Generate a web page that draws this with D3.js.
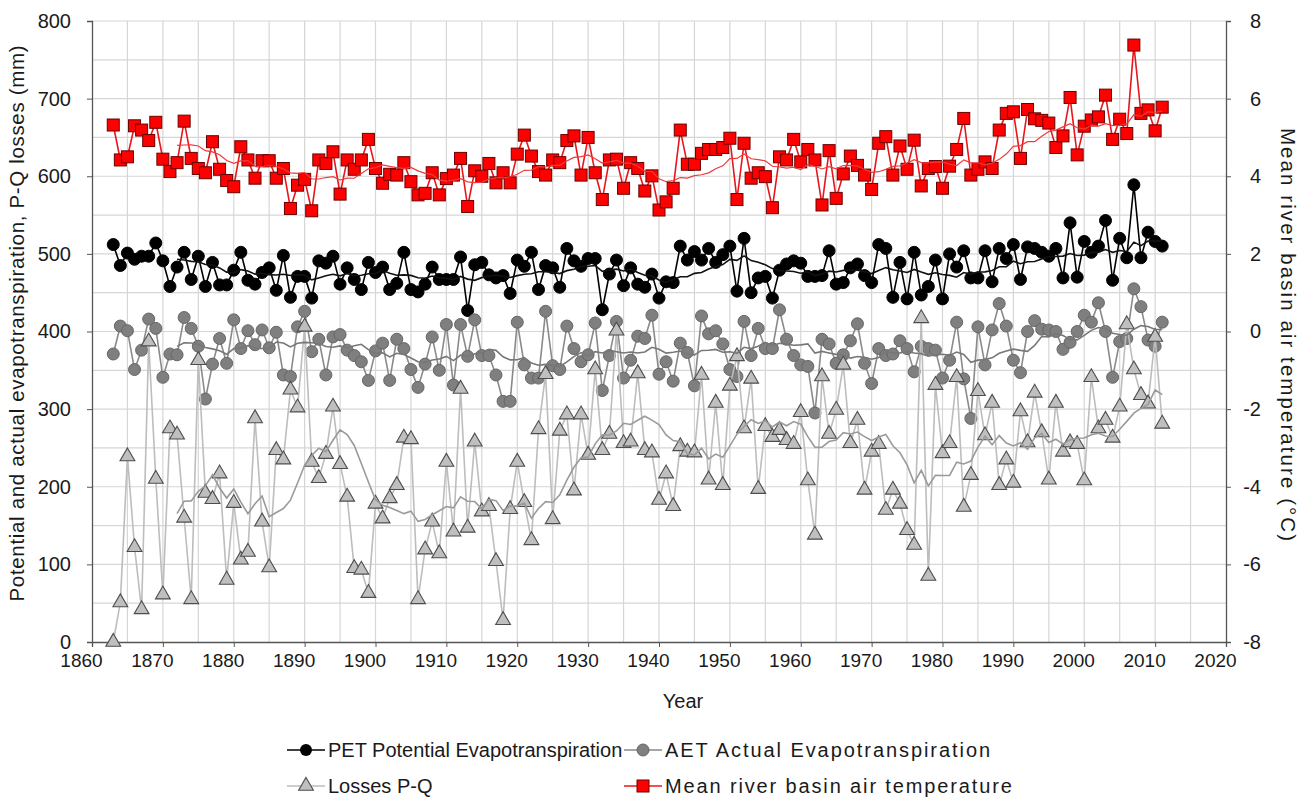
<!DOCTYPE html>
<html>
<head>
<meta charset="utf-8">
<script src="https://cdn.jsdelivr.net/npm/d3@7"></script>
<style>
  body { margin: 0; background: #fff; }
  text { font-family: "Liberation Sans", Arial, Helvetica, sans-serif; fill: #1a1a1a; }
</style>
</head>
<body>
<svg id="chart" width="1306" height="800"></svg>
<script>
// Annual series, 1863–2011
const firstYear = 1863;

// Potential evapotranspiration (mm)
const pet = [
  512, 485, 501, 493, 497, 497, 514, 491, 458, 483,
  502, 467, 497, 458, 489, 460, 460, 479, 502, 466,
  461, 476, 482, 453, 498, 444, 471, 471, 443, 491,
  488, 497, 461, 482, 467, 454, 489, 476, 483, 454,
  462, 502, 454, 451, 461, 483, 467, 467, 467, 496,
  427, 486, 489, 473, 469, 472, 449, 492, 484, 502,
  454, 485, 482, 457, 507, 491, 484, 494, 494, 428,
  474, 492, 459, 482, 461, 457, 474, 443, 464, 463,
  510, 492, 503, 492, 507, 489, 499, 510, 452, 520,
  450, 469, 471, 443, 479, 487, 491, 488, 471, 471,
  472, 504, 461, 463, 482, 487, 472, 463, 512, 507,
  444, 489, 442, 502, 447, 458, 492, 442, 500, 483,
  504, 469, 469, 504, 464, 507, 494, 512, 467, 509,
  507, 502, 497, 507, 469, 540, 470, 516, 502, 510,
  543, 466, 520, 495, 589, 495, 528, 516, 510
];

// Actual evapotranspiration (mm)
const aet = [
  371, 407, 401, 351, 376, 416, 404, 341, 371, 370,
  418, 404, 381, 313, 358, 391, 359, 415, 378, 401,
  383, 402, 379, 399, 344, 342, 406, 426, 374, 390,
  344, 393, 396, 376, 369, 361, 337, 375, 385, 337,
  390, 378, 351, 328, 358, 393, 350, 409, 331, 409,
  368, 415, 369, 369, 344, 310, 310, 412, 357, 340,
  340, 426, 356, 351, 407, 378, 361, 370, 411, 324,
  369, 413, 340, 363, 394, 391, 421, 345, 361, 336,
  385, 373, 330, 420, 397, 401, 384, 351, 342, 413,
  369, 404, 378, 378, 428, 390, 369, 357, 355, 295,
  390, 384, 359, 370, 388, 410, 359, 333, 378, 369,
  371, 388, 378, 348, 381, 378, 376, 340, 363, 412,
  339, 288, 406, 357, 402, 436, 407, 363, 347, 400,
  414, 403, 402, 400, 377, 386, 400, 421, 412, 437,
  400, 341, 387, 391, 455, 432, 389, 381, 412
];

// Losses P-Q (mm)
const losses = [
    0,  51, 239, 122,  42, 387, 210,  61, 275, 267,
  160,  55, 363, 192, 184, 217,  80, 179, 106, 116,
  288, 155,  96, 247, 235, 325, 302, 406, 232, 211,
  242, 303, 229, 187,  95,  93,  63, 178, 159, 185,
  202, 263, 261,  55, 119, 155, 114, 232, 142, 326,
  147, 258, 168, 175, 104,  28, 171, 232, 180, 131,
  274, 345, 158, 272, 293, 195, 293, 241, 351, 247,
  268, 401, 256, 258, 346, 247, 244, 183, 217, 175,
  252, 245, 244, 344, 209, 308, 202, 330, 368, 275,
  339, 197, 278, 264, 273, 260, 255, 296, 208, 138,
  342, 268, 299, 357, 256, 286, 196, 245, 255, 170,
  196, 178, 144, 125, 417,  85, 331, 243, 256, 341,
  174, 215, 323, 266, 308, 202, 235, 205, 297, 257,
  321, 270, 209, 308, 245, 257, 255, 208, 341, 275,
  286, 263, 303, 409, 351, 318, 307, 393, 281
];

// Mean river basin air temperature (°C)
const temperature = [
  5.32, 4.42, 4.50, 5.30, 5.19, 4.92, 5.39, 4.44, 4.12, 4.35,
  5.42, 4.46, 4.20, 4.09, 4.89, 4.18, 3.89, 3.73, 4.76, 4.42,
  3.95, 4.40, 4.40, 3.95, 4.20, 3.17, 3.77, 3.92, 3.11, 4.42,
  4.33, 4.63, 3.54, 4.42, 4.18, 4.42, 4.95, 4.20, 3.82, 4.05,
  4.03, 4.35, 3.86, 3.52, 3.56, 4.09, 3.52, 3.94, 4.03, 4.46,
  3.22, 4.14, 4.00, 4.33, 3.83, 4.09, 3.83, 4.57, 5.06, 4.52,
  4.12, 4.03, 4.42, 4.35, 4.92, 5.04, 4.03, 5.00, 4.09, 3.40,
  4.42, 4.44, 3.69, 4.35, 4.20, 3.62, 4.01, 3.13, 3.34, 3.69,
  5.19, 4.31, 4.31, 4.59, 4.69, 4.69, 4.74, 4.98, 3.40, 4.85,
  3.95, 4.09, 3.99, 3.19, 4.50, 4.42, 4.95, 4.37, 4.69, 4.42,
  3.26, 4.66, 3.43, 4.06, 4.52, 4.28, 4.03, 3.66, 4.85, 5.02,
  4.03, 4.78, 4.18, 4.93, 3.75, 4.20, 4.25, 3.69, 4.26, 4.69,
  5.49, 4.03, 4.18, 4.37, 4.20, 5.19, 5.62, 5.66, 4.46, 5.72,
  5.48, 5.44, 5.37, 4.74, 5.04, 6.03, 4.55, 5.29, 5.45, 5.53,
  6.09, 4.95, 5.47, 5.10, 7.38, 5.62, 5.71, 5.17, 5.78
];

// Axis ticks
const xTicks = [1860, 1870, 1880, 1890, 1900, 1910, 1920, 1930, 1940, 1950, 1960, 1970, 1980, 1990, 2000, 2010, 2020];
const yTicks = [0, 100, 200, 300, 400, 500, 600, 700, 800];
const tTicks = [-8, -6, -4, -2, 0, 2, 4, 6, 8];

const legendLabels = {
  pet: "PET Potential Evapotranspiration",
  aet: "AET Actual Evapotranspiration",
  losses: "Losses P-Q",
  temp: "Mean river basin air temperature"
};

(function draw() {
  const svg = d3.select("#chart");
  const L = 92, R = 1226, T = 21, B = 642;

  const x = d3.scaleLinear().domain([1860, 2020]).range([L, R]);
  const y = d3.scaleLinear().domain([0, 800]).range([B, T]);
  const yT = d3.scaleLinear().domain([-8, 8]).range([B, T]);

  const years = pet.map((_, i) => firstYear + i);
  const rows = arr => arr.map((v, i) => ({ year: years[i], v }));

  // 10-year trailing moving average
  const movingAvg = (arr, n) => arr
    .map((v, i) => i < n - 1 ? null : { year: years[i], v: d3.mean(arr.slice(i - n + 1, i + 1)) })
    .filter(d => d);

  // widen a text run by spreading its letters
  const spread = (sel, k) => {
    const w = sel.node().getComputedTextLength();
    sel.attr("textLength", w * k).attr("lengthAdjust", "spacing");
  };

  // grid
  const grid = svg.append("g");
  grid.selectAll("line.v").data(d3.range(1865, 2020, 5)).join("line")
    .attr("x1", d => x(d)).attr("x2", d => x(d))
    .attr("y1", T).attr("y2", B)
    .attr("stroke", "#d6d6d6").attr("stroke-width", 1.2);
  grid.selectAll("line.h").data(d3.range(50, 801, 50)).join("line")
    .attr("x1", L).attr("x2", R)
    .attr("y1", d => y(d)).attr("y2", d => y(d))
    .attr("stroke", "#d6d6d6").attr("stroke-width", 1.2);

  // axes
  const xAxis = svg.append("g").attr("transform", `translate(0,${B})`)
    .call(d3.axisBottom(x).tickValues(xTicks).tickFormat(d3.format("d")).tickSize(5).tickPadding(7));
  xAxis.selectAll(".tick text").attr("dx", -11);
  const yAxis = svg.append("g").attr("transform", `translate(${L},0)`)
    .call(d3.axisLeft(y).tickValues(yTicks).tickSize(5).tickPadding(16));
  const tAxis = svg.append("g").attr("transform", `translate(${R},0)`)
    .call(d3.axisRight(yT).tickValues(tTicks).tickFormat(d => d < 0 ? "-" + Math.abs(d) : d).tickSize(5).tickPadding(30));
  tAxis.selectAll(".tick text").attr("text-anchor", "end");
  xAxis.selectAll("text").style("font-size", "19px");
  yAxis.selectAll("text").style("font-size", "20px");
  tAxis.selectAll("text").style("font-size", "20px");
  [xAxis, yAxis, tAxis].forEach(g => {
    g.selectAll("text").attr("fill", "#1a1a1a");
    g.selectAll("line").attr("stroke", "#555");
    g.select(".domain").attr("stroke", "#555").attr("stroke-width", 1.3);
  });

  // series
  const line = d3.line().x(d => x(d.year)).y(d => y(d.v));
  const lineT = d3.line().x(d => x(d.year)).y(d => yT(d.v));

  function drawSeries(data, gen, color, width) {
    svg.append("path").datum(data).attr("d", gen)
      .attr("fill", "none").attr("stroke", color).attr("stroke-width", width);
  }

  // PET
  drawSeries(rows(pet), line, "#000", 1.6);
  svg.append("g").selectAll("circle").data(rows(pet)).join("circle")
    .attr("cx", d => x(d.year)).attr("cy", d => y(d.v)).attr("r", 6)
    .attr("fill", "#000").attr("stroke", "#000");

  // AET
  drawSeries(rows(aet), line, "#8a8a8a", 1.6);
  svg.append("g").selectAll("circle").data(rows(aet)).join("circle")
    .attr("cx", d => x(d.year)).attr("cy", d => y(d.v)).attr("r", 6)
    .attr("fill", "#7f7f7f").attr("stroke", "#666").attr("stroke-width", 1);

  // Losses
  const tri = d3.symbol().type(d3.symbolTriangle).size(95);
  drawSeries(rows(losses), line, "#bdbdbd", 1.6);
  svg.append("g").selectAll("path").data(rows(losses)).join("path")
    .attr("transform", d => `translate(${x(d.year)},${y(d.v)})`).attr("d", tri)
    .attr("fill", "#bfbfbf").attr("stroke", "#4d4d4d").attr("stroke-width", 1.1);

  // Temperature
  drawSeries(rows(temperature), lineT, "#e8161b", 1.6);
  svg.append("g").selectAll("rect").data(rows(temperature)).join("rect")
    .attr("x", d => x(d.year) - 6).attr("y", d => yT(d.v) - 6)
    .attr("width", 12).attr("height", 12)
    .attr("fill", "#ff0000").attr("stroke", "#6b0000").attr("stroke-width", 1);

  // 10-year moving averages
  drawSeries(movingAvg(pet, 10), line, "#111", 1.6);
  drawSeries(movingAvg(aet, 10), line, "#777", 1.6);
  drawSeries(movingAvg(losses, 10), line, "#9a9a9a", 1.6);
  drawSeries(movingAvg(temperature, 10), lineT, "#ef3a3a", 1.2);

  // axis titles
  const leftTitle = svg.append("text")
    .attr("transform", `translate(24,${(T + B) / 2 - 8}) rotate(-90)`)
    .attr("text-anchor", "middle").style("font-size", "20.5px")
    .text("Potential and actual evapotranspiration, P-Q losses (mm)");
  spread(leftTitle, 1.07);
  const rightTitle = svg.append("text")
    .attr("transform", `translate(1281,${(T + B) / 2 + 3}) rotate(90)`)
    .attr("text-anchor", "middle").style("font-size", "20.5px")
    .text("Mean river basin air temperature (°C)");
  spread(rightTitle, 1.22);
  svg.append("text")
    .attr("x", (L + R) / 2 + 24).attr("y", 708)
    .attr("text-anchor", "middle").style("font-size", "20px").text("Year");

  // legend
  const legend = svg.append("g");
  const items = [
    { key: "pet", lx: 287, ly: 750, k: 1 },
    { key: "aet", lx: 624, ly: 750, k: 1.2 },
    { key: "losses", lx: 287, ly: 786, k: 1 },
    { key: "temp", lx: 624, ly: 786, k: 1.2 }
  ];
  const strokes = { pet: "#000", aet: "#8a8a8a", losses: "#bdbdbd", temp: "#e8161b" };
  items.forEach(it => {
    const g = legend.append("g").attr("transform", `translate(${it.lx},${it.ly})`);
    g.append("line").attr("x1", 0).attr("x2", 38).attr("stroke", strokes[it.key]).attr("stroke-width", 1.6);
    if (it.key === "pet") g.append("circle").attr("cx", 19).attr("r", 6).attr("fill", "#000");
    if (it.key === "aet") g.append("circle").attr("cx", 19).attr("r", 6).attr("fill", "#7f7f7f").attr("stroke", "#666");
    if (it.key === "losses") g.append("path").attr("transform", "translate(19,0)").attr("d", tri)
      .attr("fill", "#bfbfbf").attr("stroke", "#4d4d4d").attr("stroke-width", 1.1);
    if (it.key === "temp") g.append("rect").attr("x", 13).attr("y", -6).attr("width", 12).attr("height", 12)
      .attr("fill", "#ff0000").attr("stroke", "#6b0000");
    const t = g.append("text").attr("x", 41).attr("y", 7).style("font-size", "20px").text(legendLabels[it.key]);
    if (it.k !== 1) spread(t, it.k);
  });
})();
</script>
</body>
</html>
